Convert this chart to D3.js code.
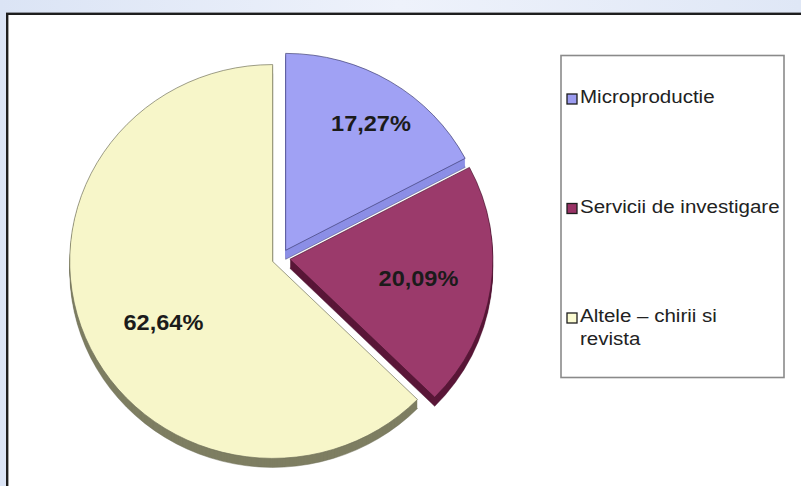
<!DOCTYPE html>
<html>
<head>
<meta charset="utf-8">
<script src="https://cdn.jsdelivr.net/npm/d3@7"></script>
<style>
  html, body { margin: 0; padding: 0; background: #e3eaf7; }
  svg { display: block; }
</style>
</head>
<body>
<svg id="chart" width="801" height="486"></svg>
<script>
// Cost structure shares (%)
const categories = ["Microproductie", "Servicii de investigare", "Altele \u2013 chirii si revista"];
const legendLines = [["Microproductie"], ["Servicii de investigare"], ["Altele \u2013 chirii si", "revista"]];
const values = [17.27, 20.09, 62.64];

// Look of each slice: top face, extruded side, outline
const topColors = ["#a0a1f4", "#9b3a6b", "#f7f6c9"];
const sideColors = ["#8c8fe6", "#5a1738", "#7e7e62"];
const edgeColors = ["#3a3a6e", "#4a1530", "#6e6e58"];
const legendFill = ["#9c9cf0", "#993366", "#fbfbd2"];

// Label placement inside each slice (fraction of radius, angular nudge in degrees)
const labelRadius = [0.77, 0.64, 0.62];
const labelNudge = [2, 0, -7];

const svg = d3.select("#chart");
const W = 801, H = 486;

// backdrop outside the chart frame
const defs = svg.append("defs");
const bg = defs.append("linearGradient").attr("id", "bg").attr("x1", 0).attr("y1", 0).attr("x2", 1).attr("y2", 0);
bg.append("stop").attr("offset", "0%").attr("stop-color", "#dbe4f5");
bg.append("stop").attr("offset", "50%").attr("stop-color", "#eef2fb");
bg.append("stop").attr("offset", "100%").attr("stop-color", "#dfe7f6");
svg.append("rect").attr("width", W).attr("height", H).attr("fill", "url(#bg)");

// chart area frame
svg.append("rect")
  .attr("x", 7.2).attr("y", 13.8).attr("width", W + 20).attr("height", H + 20)
  .attr("fill", "#ffffff").attr("stroke", "#1e1e1e").attr("stroke-width", 2.4);

// pie geometry
const cx = 281, cy = 258, R = 203, squash = 0.97, depth = 9, explode = 9;

const pie = d3.pie().sort(null).value(d => d).startAngle(0).endAngle(2 * Math.PI);
const arcs = pie(values);
const arc = d3.arc().innerRadius(0).outerRadius(R);

arcs.forEach((a, i) => {
  const mid = (a.startAngle + a.endAngle) / 2;
  a.index = i;
  a.ox = cx + explode * Math.sin(mid);
  a.oy = cy - explode * Math.cos(mid);
});

// back-to-front drawing order: upper slice first, the lower ones cover its side wall
const order = [0, 2, 1];
const pieG = svg.append("g");

order.forEach(i => {
  const a = arcs[i];
  const g = pieG.append("g");
  // extruded side wall built from stacked copies of the slice
  for (let k = depth; k >= 1; k--) {
    g.append("path")
      .attr("d", arc(a))
      .attr("transform", `translate(${a.ox},${a.oy + k}) scale(1,${squash})`)
      .attr("fill", sideColors[i])
      .attr("stroke", k === depth ? edgeColors[i] : "none")
      .attr("stroke-width", 0.8)
      .attr("stroke-opacity", 0.6);
  }
  // top face
  g.append("path")
    .attr("d", arc(a))
    .attr("transform", `translate(${a.ox},${a.oy}) scale(1,${squash})`)
    .attr("fill", topColors[i])
    .attr("stroke", edgeColors[i])
    .attr("stroke-width", 0.9)
    .attr("stroke-opacity", 0.75)
    .attr("vector-effect", "non-scaling-stroke");
});

// value labels
const fmt = v => v.toFixed(2).replace(".", ",") + "%";
arcs.forEach((a, i) => {
  const ang = (a.startAngle + a.endAngle) / 2 + labelNudge[i] * Math.PI / 180;
  const r = R * labelRadius[i];
  const x = a.ox + r * Math.sin(ang);
  const y = a.oy - r * Math.cos(ang) * squash;
  svg.append("text")
    .attr("transform", `translate(${x},${y + 8}) scale(1.07,1)`)
    .attr("text-anchor", "middle")
    .attr("font-family", "Liberation Sans, Arial, sans-serif")
    .attr("font-weight", "bold")
    .attr("font-size", 22)
    .attr("fill", "#1b1b1b")
    .text(fmt(values[i]));
});

// legend
const lg = svg.append("g");
lg.append("rect")
  .attr("x", 561).attr("y", 55.5).attr("width", 223).attr("height", 322)
  .attr("fill", "#ffffff").attr("stroke", "#8a8a8a").attr("stroke-width", 1.6);

const legendY = d3.scalePoint().domain(categories).range([103, 322]);
categories.forEach((c, i) => {
  const base = legendY(c);
  lg.append("rect")
    .attr("x", 567).attr("y", base - 9).attr("width", 10).attr("height", 10)
    .attr("fill", legendFill[i]).attr("stroke", "#1e1e1e").attr("stroke-width", 1.3);
  legendLines[i].forEach((line, j) => {
    lg.append("text")
      .attr("transform", `translate(580,${base + j * 23}) scale(1.11,1)`)
      .attr("font-family", "Liberation Sans, Arial, sans-serif")
      .attr("font-size", 18.5)
      .attr("fill", "#222")
      .text(line);
  });
});
</script>
</body>
</html>
